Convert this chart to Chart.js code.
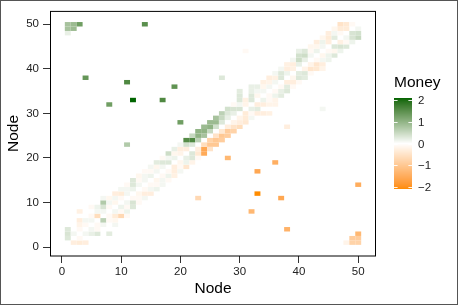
<!DOCTYPE html>
<html><head><meta charset="utf-8">
<script src="https://cdn.jsdelivr.net/npm/chart.js@4/dist/chart.umd.min.js"></script>
<style>html,body{margin:0;padding:0;background:#fff;}canvas{display:block;}</style>
</head><body>
<canvas id="c" width="458" height="305" style="width:458px;height:305px"></canvas>
<script>
const nodeTicks = [0, 10, 20, 30, 40, 50];
const legendTicks = [2, 1, 0, -1, -2];
const legendTitle = 'Money';
const axisTitle = 'Node';
// Upper-triangle cells (from -> to, money). The matrix is antisymmetric: cell (to, from) holds -money.
const cellFrom = [1,1,1,1,1,1, 2,2,2, 3,3,3,3,3, 4,4,4, 5,5,5, 6,6,6, 7,7,7,7, 8,8,8,8, 9,9,9, 10,10,10,
  11,11,11,11,11, 12,12,12,12, 13,13,13, 14,14,14,14, 15,15,15, 16,16,16, 17,17,17,17, 18,18,18, 19,19,19,19,
  20,20,20,20, 21,21,21, 22,22,22, 23,23,23, 24,24,24, 25,25,25, 26,26,26, 27,27,27,27, 28,28,28, 29,29,29,
  30,30,30,30,30, 31,31,31, 32,32,32,32, 33,33,33, 34,34,34, 35,35,35, 36,36,36, 37,37,37, 38,38,38, 39,39,39,
  40,40,40,40, 41,41,41, 42,42,42, 43,43,43, 44,44,44, 45,45,45, 46,46,46, 47,47,47, 48,48, 49];
const cellTo = [2,3,4,48,49,50, 3,49,50, 4,5,6,8,50, 5,6,38, 6,7,9, 7,8,9, 8,9,10,11, 9,10,11,32, 10,11,12, 11,12,13,
  12,13,14,23,37, 13,14,15,33, 14,15,16, 15,16,17,50, 16,17,18, 17,18,19, 18,19,20,33, 19,20,21, 20,21,22,36,
  21,22,23,28, 22,23,24, 23,24,25, 24,25,26, 25,26,27, 26,27,28, 27,28,29, 28,29,30,38, 29,30,31, 30,31,32,
  31,32,33,34,35, 32,33,44, 33,34,35,36, 34,35,36, 35,36,37, 36,37,38, 37,38,39, 38,39,40, 39,40,41, 40,41,42,
  41,42,43,44, 42,43,44, 43,44,45, 44,45,46, 45,46,47, 46,47,48, 47,48,49, 48,49,50, 49,50, 50];
const cellMoney = [0.3,0.35,0.3,0.2,0.8,0.8, 0.1,0.9,0.9, -0.1,-0.2,-0.3,-0.25,1.3, -0.1,0.1,1.4, 0.1,-0.1,-0.1, -0.6,0.1,0.15, 0.1,0.35,0.7,0.1, -0.1,0.1,-0.15,1.3, -0.15,0.1,-0.3, -0.1,-0.35,0.1,
  0.1,0.1,-0.1,0.7,1.6, 0.15,0.3,0.3,2.1, 0.1,-0.1,-0.15, 0.1,0.1,-0.1,1.5, 0.15,-0.1,0.1, 0.1,-0.15,0.25, 0.1,0.3,-0.1,1.6, 0.3,0.1,0.45, 0.15,-0.15,0.2,1.45,
  -0.2,-0.3,0.1,1.3, -0.3,0.4,1.55, 0.3,1.6,0.5, 0.6,1.0,1.0, 0.8,1.0,0.9, 0.5,1.0,0.9, 0.4,0.9,0.8, 0.3,0.5,0.6,0.3, 0.2,0.3,0.4, 0.2,0.35,-0.1,
  0.35,0.1,0.3,0.3,0.25, -0.2,-0.25,-0.1, 0.3,0.3,0.2,0.2, -0.15,0.1,0.2, 0.1,-0.15,-0.25, 0.1,-0.2,-0.3, 0.1,-0.25,0.1, 0.3,0.3,0.1, 0.15,-0.3,-0.25, -0.25,-0.3,0.1,
  0.2,0.45,0.4,0.2, 0.2,0.45,0.3, 0.1,-0.1,-0.15, 0.15,-0.15,-0.3, 0.1,0.15,-0.15, -0.3,-0.35,-0.3, 0.25,0.1,-0.15, -0.1,-0.35,-0.5, -0.35,-0.4, -0.1];

const FONT = "'Liberation Sans', Arial, Helvetica, sans-serif";
const lowColor = '#FF8C00', midColor = '#FFFFFF', highColor = '#006400';

function lin(c){c/=255;return c<=0.04045?c/12.92:Math.pow((c+0.055)/1.055,2.4);}
function gam(c){const v=c<=0.0031308?12.92*c:1.055*Math.pow(c,1/2.4)-0.055;return Math.round(Math.max(0,Math.min(1,v))*255);}
function toLab(hex){
  const r=lin(parseInt(hex.slice(1,3),16)),g=lin(parseInt(hex.slice(3,5),16)),b=lin(parseInt(hex.slice(5,7),16));
  const X=(0.4124564*r+0.3575761*g+0.1804375*b)/0.95047;
  const Y=(0.2126729*r+0.7151522*g+0.0721750*b);
  const Z=(0.0193339*r+0.1191920*g+0.9503041*b)/1.08883;
  const f=t=>t>0.008856?Math.cbrt(t):(7.787*t+16/116);
  const fx=f(X),fy=f(Y),fz=f(Z);
  return [116*fy-16,500*(fx-fy),200*(fy-fz)];
}
function fromLab(L,a,b){
  const fy=(L+16)/116,fx=fy+a/500,fz=fy-b/200;
  const inv=t=>{const t3=t*t*t;return t3>0.008856?t3:(t-16/116)/7.787;};
  const X=inv(fx)*0.95047,Y=inv(fy),Z=inv(fz)*1.08883;
  const r=3.2404542*X-1.5371385*Y-0.4985314*Z;
  const g=-0.9692660*X+1.8760108*Y+0.0415560*Z;
  const bb=0.0556434*X-0.2040259*Y+1.0572252*Z;
  return 'rgb('+gam(r)+','+gam(g)+','+gam(bb)+')';
}
const labLow=toLab(lowColor), labMid=toLab(midColor), labHigh=toLab(highColor);
const vmax = Math.max(...cellMoney.map(Math.abs));
function colorFor(v){
  const t=Math.min(1,Math.abs(v)/vmax);
  const e=v>=0?labHigh:labLow;
  return fromLab(labMid[0]+(e[0]-labMid[0])*t,labMid[1]+(e[1]-labMid[1])*t,labMid[2]+(e[2]-labMid[2])*t);
}

const cells = [];
for (let i = 0; i < cellFrom.length; i++) {
  cells.push({x: cellFrom[i], y: cellTo[i], v: cellMoney[i]});
  cells.push({x: cellTo[i], y: cellFrom[i], v: -cellMoney[i]});
}

const tilePlugin = {
  id: 'tiles',
  beforeDatasetsDraw(chart) {
    const {ctx, chartArea: a, scales: {x, y}} = chart;
    ctx.save();
    ctx.beginPath(); ctx.rect(a.left, a.top, a.right - a.left, a.bottom - a.top); ctx.clip();
    chart.data.datasets[0].data.forEach(p => {
      const x0 = x.getPixelForValue(p.x - 0.5), x1 = x.getPixelForValue(p.x + 0.5);
      const y0 = y.getPixelForValue(p.y + 0.5), y1 = y.getPixelForValue(p.y - 0.5);
      ctx.fillStyle = colorFor(p.v);
      ctx.fillRect(x0, y0, x1 - x0, y1 - y0);
    });
    ctx.restore();
  },
  afterDraw(chart) {
    const {ctx, chartArea: a} = chart;
    ctx.save();
    ctx.strokeStyle = '#000'; ctx.lineWidth = 1;
    ctx.strokeRect(a.left + 0.5, a.top + 0.5, a.right - a.left - 1, a.bottom - a.top - 0.5);
    // colour bar legend
    const bx = 394, bw = 18, btop = 98, bh = 91;
    const mid = btop + bh / 2, per = bh / (2 * vmax);
    for (let py = 0; py < bh; py++) {
      const v = (mid - (btop + py + 0.5)) / per;
      ctx.fillStyle = colorFor(v);
      ctx.fillRect(bx, btop + py, bw, 1);
    }
    ctx.strokeStyle = 'rgba(255,255,255,0.9)';
    ctx.fillStyle = '#222';
    ctx.font = '11.5px ' + FONT;
    ctx.textAlign = 'left'; ctx.textBaseline = 'middle';
    legendTicks.forEach(t => {
      const ty = Math.round(mid - t * per) + 0.5;
      ctx.beginPath();
      ctx.moveTo(bx, ty); ctx.lineTo(bx + 3.6, ty);
      ctx.moveTo(bx + bw - 3.6, ty); ctx.lineTo(bx + bw, ty);
      ctx.stroke();
      ctx.fillText(t < 0 ? '\u2212' + Math.abs(t) : String(t), 418, ty);
    });
    ctx.fillStyle = '#000';
    ctx.font = '15.5px ' + FONT;
    ctx.fillText(legendTitle, 394, 83);
    // outer frame
    ctx.strokeStyle = '#555';
    ctx.strokeRect(0.5, 0.5, 457, 304);
    ctx.restore();
  }
};

const tickFont = {family: FONT, size: 11.5};
const titleFont = {family: FONT, size: 15.5};
new Chart(document.getElementById('c'), {
  type: 'scatter',
  data: {datasets: [{data: cells, pointRadius: 0, pointHoverRadius: 0}]},
  options: {
    responsive: false, animation: false, devicePixelRatio: 1, events: [],
    layout: {padding: {left: 0, top: 6, right: 82, bottom: 0}},
    plugins: {legend: {display: false}, tooltip: {enabled: false}},
    scales: {
      x: {
        type: 'linear', min: -2, max: 53,
        afterBuildTicks: s => { s.ticks = nodeTicks.map(v => ({value: v})); },
        afterFit: s => { s.height = 49; },
        grid: {display: true, drawOnChartArea: false, drawTicks: true, tickLength: 7, tickColor: '#333', lineWidth: 1},
        border: {display: false},
        ticks: {color: '#222', font: tickFont, padding: 2, maxRotation: 0, autoSkip: false},
        title: {display: true, text: axisTitle, color: '#000', font: titleFont, padding: {top: 0, bottom: 6.7}}
      },
      y: {
        type: 'linear', min: -2, max: 53,
        afterBuildTicks: s => { s.ticks = nodeTicks.map(v => ({value: v})); },
        afterFit: s => { s.width = 50; },
        grid: {display: true, drawOnChartArea: false, drawTicks: true, tickLength: 7, tickColor: '#333', lineWidth: 1},
        border: {display: false},
        ticks: {color: '#222', font: tickFont, padding: 4, autoSkip: false},
        title: {display: true, text: axisTitle, color: '#000', font: titleFont, padding: {top: 4.7, bottom: 0}}
      }
    }
  },
  plugins: [tilePlugin]
});
</script>
</body></html>
